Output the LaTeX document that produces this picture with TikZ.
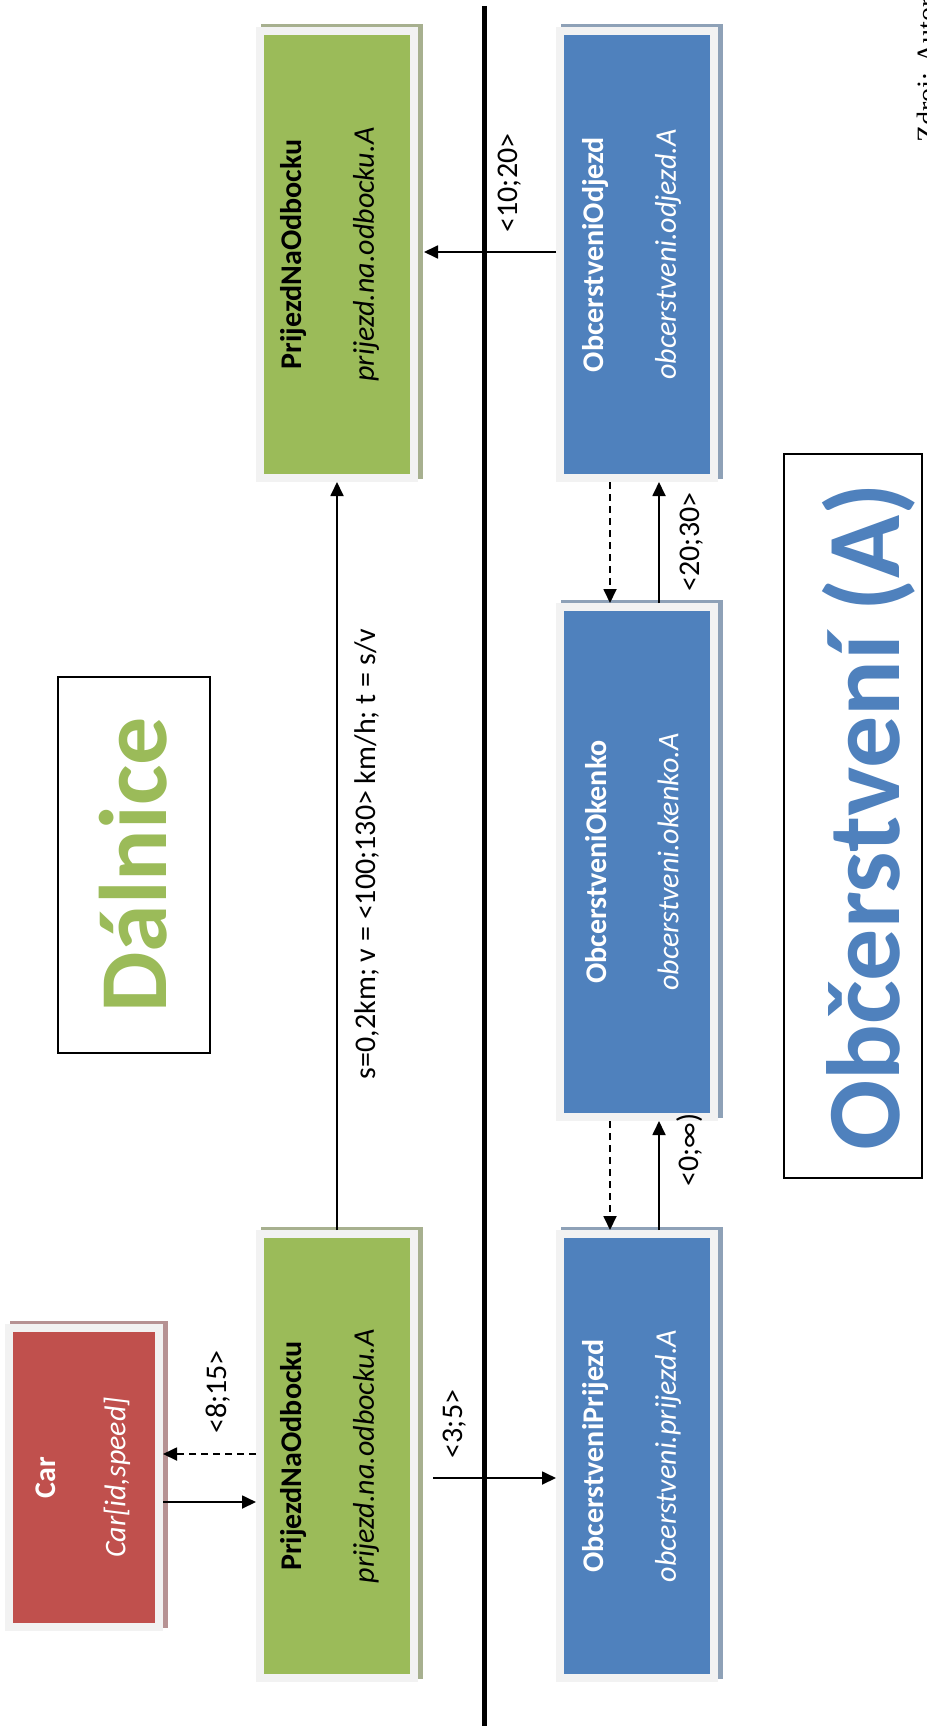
\documentclass[tikz,border=0pt]{standalone}
\usepackage{fontspec}
\setmainfont{Carlito}
\newfontfamily\srcfont{Liberation Serif}
\usetikzlibrary{arrows.meta,backgrounds}
\definecolor{gfill}{HTML}{9BBB59}
\definecolor{bfill}{HTML}{4F81BD}
\definecolor{rfill}{HTML}{C0504D}
\definecolor{framegray}{HTML}{F2F2F2}
\definecolor{gshade}{HTML}{A7B08F}
\definecolor{bshade}{HTML}{8EA1B7}
\definecolor{rshade}{HTML}{B69293}
\begin{document}
\begin{tikzpicture}[x=1pt,y=-1pt,
  box/.style={draw=framegray, line width=8pt, inner sep=0pt},
  gbox/.style={box, fill=gfill, minimum width=154pt},
  bbox/.style={box, fill=bfill, minimum width=154pt},
  rbox/.style={box, fill=rfill},
  boxtext/.style={rotate=90, align=center, inner sep=0pt,
    font=\fontsize{30}{36}\selectfont},
  lbl/.style={rotate=90, inner sep=0pt, font=\fontsize{30}{36}\selectfont},
  arr/.style={line width=1.8pt, -{Triangle[length=14pt,width=13pt]}},
  darr/.style={arr, dash pattern=on 7pt off 5pt},
  titlebox/.style={draw=black, line width=1.8pt, inner sep=0pt},
]
\path[use as bounding box, clip] (0,0) rectangle (926,1726);

% process boxes
\node[rbox, minimum width=150pt, minimum height=299pt] (car) at (84,1477.5) {};
\node[gbox, minimum height=447pt] (gtop) at (337,254.5) {};
\node[gbox, minimum height=444pt] (gbot) at (337,1456) {};
\node[bbox, minimum height=447pt] (btop) at (637,254.5) {};
\node[bbox, minimum height=510pt] (bmid) at (637,862) {};
\node[bbox, minimum height=444pt] (bbot) at (637,1456) {};

% white page and offset shadows behind the boxes
\begin{scope}[on background layer]
  \fill[white] (0,0) rectangle (926,1726);
  \foreach \n/\c in {car/rshade, gtop/gshade, gbot/gshade, btop/bshade, bmid/bshade, bbot/bshade}
    \fill[\c] ([shift={(5pt,3pt)}]\n.south west) rectangle ([shift={(5pt,3pt)}]\n.north east);
\end{scope}

% box captions
\node[boxtext, text=white] (car-t) at ([xshift=-1pt]car.center)
  {\textbf{Car}\\[34pt]\textit{Car[id,speed]}};
\node[boxtext] (gtop-t) at ([xshift=-7pt]gtop.center)
  {\textbf{PrijezdNaOdbocku}\\[36pt]\textit{prijezd.na.odbocku.A}};
\node[boxtext] (gbot-t) at ([xshift=-7pt]gbot.center)
  {\textbf{PrijezdNaOdbocku}\\[36pt]\textit{prijezd.na.odbocku.A}};
\node[boxtext, text=white] (btop-t) at ([xshift=-5pt]btop.center)
  {\textbf{ObcerstveniOdjezd}\\[36pt]\textit{obcerstveni.odjezd.A}};
\node[boxtext, text=white] (bmid-t) at ([xshift=-5pt]bmid.center)
  {\textbf{ObcerstveniOkenko}\\[36pt]\textit{obcerstveni.okenko.A}};
\node[boxtext, text=white] (bbot-t) at ([xshift=-5pt]bbot.center)
  {\textbf{ObcerstveniPrijezd}\\[36pt]\textit{obcerstveni.prijezd.A}};

% separator between the motorway and the rest area
\draw[line width=5pt] (484,6) -- (484,1726);

% connectors
\coordinate (gbot-out) at ([xshift=15pt]gbot.east);
\coordinate (gtop-in) at ([xshift=6pt]gtop.east);
\draw[arr] (car.east |- 0,1502) -- (gbot.west |- 0,1502);
\draw[darr] (gbot.west |- 0,1454) -- (car.east |- 0,1454);
\draw[arr] (gbot-out |- 0,1478) -- (bbot.west |- 0,1478);
\draw[arr] (gbot.north) -- (gtop.south);
\draw[arr] (btop.west |- 0,252) -- (gtop-in |- 0,252);
\draw[darr] (610,0 |- btop.south) -- (610,0 |- bmid.north);
\draw[arr] (659,0 |- bmid.north) -- (659,0 |- btop.south);
\draw[darr] (610,0 |- bmid.south) -- (610,0 |- bbot.north);
\draw[arr] (659,0 |- bbot.north) -- (659,0 |- bmid.south);

% connector labels
\node[lbl] (l815) at (218,1392) {<8;15>};
\node[lbl] (l35) at (455,1424) {<3;5>};
\node[lbl] (lroad) at (367,854) {s=0,2km; v = <100;130> km/h; t = s/v};
\node[lbl] (l1020) at (510,183) {<10;20>};
\node[lbl] (l2030) at (692,542) {<20;30>};
\node[lbl] (l0inf) at (690,1150) {<0;∞)};

% area titles
\node[titlebox, minimum width=152pt, minimum height=376pt] (dalbox) at (134,865) {};
\node[rotate=90, anchor=base, inner sep=0pt, text=gfill,
  font=\fontsize{96}{110}\selectfont\bfseries] (dal) at (166,865) {Dálnice};
\node[titlebox, minimum width=138pt, minimum height=724pt] (obcbox) at (853,816) {};
\node[rotate=90, anchor=base, inner sep=0pt, text=bfill,
  font=\fontsize{104}{118}\selectfont\bfseries] (obc) at (899,817) {Občerstvení (A)};

% source note
\node[rotate=90, anchor=base west, inner sep=0pt,
  font=\srcfont\fontsize{28}{30}\selectfont] (src) at (936,143) {Zdroj: Autor};
\end{tikzpicture}
\end{document}
